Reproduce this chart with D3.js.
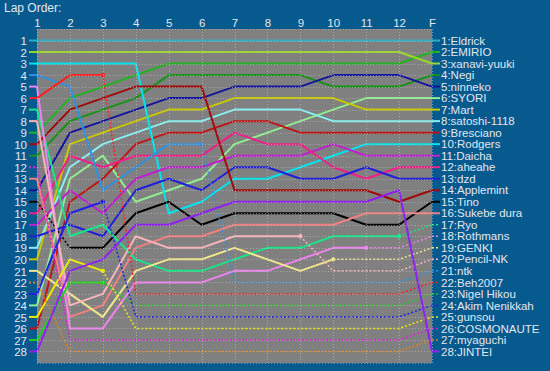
<!DOCTYPE html>
<html><head><meta charset="utf-8">
<script src="https://cdn.jsdelivr.net/npm/d3@7"></script>
<style>body{margin:0;background:#075a8e;} svg{display:block}</style>
</head><body>
<svg id="c" width="550" height="371"></svg>
<script>
// ---- data ----
const lapLabels = ["1","2","3","4","5","6","7","8","9","10","11","12","F"];
const drivers = ["Eldrick","EMIRIO","xanavi-yuuki","Negi","ninneko","SYORI","Mart","satoshi-1118",
  "Bresciano","Rodgers","Daicha","aheahe","dzd","Applemint","Tino","Sukebe dura","Ryo","Rothmans",
  "GENKI","Pencil-NK","ntk","Beh2007","Nigel Hikou","Akim Nenikkah","gunsou","COSMONAUTE","myaguchi","JINTEI"];
const colors = ["#2fb0c4","#1fb41f","#9ad62a","#169216","#1414a0","#90ee90","#c8c800","#88f0f0",
  "#c01414","#00e4ee","#c020d0","#f01e88","#2020d8","#a00a0a","#000000","#f08080","#18e488","#ee82ee",
  "#f0e68c","#f8b4b8","#3090e0","#ff2020","#20d020","#2020e8","#ecec00","#e020e0","#e08020","#9020f0"];

const pEldrick    = [1,1,1,1,1,1,1,1,1,1,1,1,1];
const pEMIRIO     = [9,6,5,4,3,3,3,3,3,3,3,3,2];
const pXanavi     = [2,2,2,2,2,2,2,2,2,2,2,2,3];
const pNegi       = [11,8,7,6,4,4,4,4,4,5,5,5,4];
const pNinneko    = [14,9,8,7,6,6,5,5,5,4,4,4,5];
const pSYORI      = [24,13,11,15,14,13,10,9,8,7,6,6,6];
const pMart       = [20,10,9,8,7,7,6,6,6,6,7,7,7];
const pSatoshi    = [19,12,10,9,8,8,7,7,7,8,8,8,8];
const pBresciano  = [26,15,13,10,9,9,8,8,9,9,9,9,9];
const pRodgers    = [3,3,3,3,16,15,13,13,12,11,10,10,10];
const pDaicha     = [17,14,16,13,12,12,11,11,11,10,11,11,11];
const pAheahe     = [16,11,12,11,11,11,9,10,10,12,13,12,12];
const pDzd        = [18,17,18,14,13,14,12,12,13,13,12,13,13];
const pApplemint  = [10,7,6,5,5,5,14,14,14,14,14,15,14];
const pTino       = [15,19,19,16,15,17,16,16,16,16,17,17,15];
const pSukebe     = [13,25,24,19,18,18,17,17,17,17,16,16,16];
const pRyo        = [7,18,17,20,21,21,20,19,19,18,18,18,17];
const pRothmans   = [5,26,26,22,22,22,21,21,20,19,19,19,18];
const pGENKI      = [21,23,25,21,20,20,19,20,21,20,20,20,19];
const pPencil     = [8,24,23,18,19,19,18,18,18,21,21,21,20];
const pNtk        = [4,5,14,12,10,10,22,22,22,22,22,22,21];
const pBeh        = [6,4,4,23,23,23,23,23,23,23,23,23,22];
const pNigel      = [27,22,22,24,24,24,24,24,24,24,24,24,23];
const pAkim       = [23,16,15,25,25,25,25,25,25,25,25,25,24];
const pGunsou     = [25,20,21,26,26,26,26,26,26,26,26,26,25];
const pCosmo      = [12,27,27,27,27,27,27,27,27,27,27,27,26];
const pMyaguchi   = [22,28,28,28,28,28,28,28,28,28,28,28,27];
const pJINTEI     = [28,21,20,17,17,16,15,15,15,15,15,14,28];

const positions = [pEldrick,pEMIRIO,pXanavi,pNegi,pNinneko,pSYORI,pMart,pSatoshi,pBresciano,pRodgers,
  pDaicha,pAheahe,pDzd,pApplemint,pTino,pSukebe,pRyo,pRothmans,pGENKI,pPencil,pNtk,pBeh,pNigel,pAkim,
  pGunsou,pCosmo,pMyaguchi,pJINTEI];
// index of last point reached under own power (after it the line is dotted)
const lastSolid = [12,12,12,12,12,12,12,12,12,12,12,12,12,12,12,12,11,10,9,8,5,2,2,2,2,0,0,12];
// extra dotted segments (driver index -> segment indices)
const extraDotted = {14:[0]};

// ---- chart ----
const svg = d3.select("#c");
const W = 550, H = 371;
const x = d3.scalePoint().domain(lapLabels).range([37, 432]);
const y = d3.scaleLinear().domain([0, 29]).range([29, 363]);
const textCol = "#e2e6ee";
const font = "'Liberation Sans', Arial, sans-serif";

svg.append("rect").attr("width", W).attr("height", H).attr("fill", "#075a8e");
svg.append("rect").attr("x", 37).attr("y", 29).attr("width", 395).attr("height", 334).attr("fill", "#808080");

svg.append("text").attr("x", 4).attr("y", 12).attr("fill", textCol)
  .style("font", "12px " + font).text("Lap Order:");

// top axis
const topAxis = d3.axisTop(x).tickSize(0).tickPadding(0);
const gTop = svg.append("g").attr("transform", "translate(0,27)").call(topAxis);
gTop.select(".domain").remove();
gTop.selectAll("text").attr("fill", textCol).style("font", "11.5px " + font).attr("dy", 0);

// left axis: position numbers
const rows = d3.range(1, 29);
const gLeft = svg.append("g").attr("transform", "translate(27,0)")
  .call(d3.axisLeft(y).tickValues(rows).tickSize(0).tickPadding(0).tickFormat(d3.format("d")));
gLeft.select(".domain").remove();
gLeft.selectAll("text").attr("fill", textCol).style("font", "11.5px " + font).attr("dy", "0.36em");

// lines
const gLines = svg.append("g");
positions.forEach((p, d) => {
  const col = colors[d];
  const dotted = i => i >= lastSolid[d] || (extraDotted[d] && extraDotted[d].includes(i));
  // left tick
  gLines.append("line").attr("x1", 29).attr("x2", 37).attr("y1", y(p[0])).attr("y2", y(p[0]))
    .attr("stroke", col).attr("stroke-width", 2)
    .attr("stroke-dasharray", lastSolid[d] === 0 ? "2,2" : null);
  // runs of same style
  let i = 0;
  while (i < p.length - 1) {
    const st = dotted(i);
    let j = i;
    while (j < p.length - 1 && dotted(j) === st) j++;
    const pts = d3.range(i, j + 1).map(k => [x(lapLabels[k]), y(p[k])]);
    gLines.append("path").attr("d", d3.line()(pts)).attr("fill", "none")
      .attr("stroke", col).attr("stroke-width", st ? 1.5 : 2)
      .attr("stroke-linejoin", "round")
      .attr("stroke-dasharray", st ? "2,2" : null);
    i = j;
  }
  if (lastSolid[d] < 12 && lastSolid[d] > 0) {
    gLines.append("circle").attr("cx", x(lapLabels[lastSolid[d]])).attr("cy", y(p[lastSolid[d]]))
      .attr("r", 2.2).attr("fill", col);
  }
  // right tick + label
  const yf = y(p[12]);
  gLines.append("line").attr("x1", 432).attr("x2", 440).attr("y1", yf).attr("y2", yf)
    .attr("stroke", col).attr("stroke-width", lastSolid[d] < 12 ? 1.5 : 2)
    .attr("stroke-dasharray", lastSolid[d] < 12 ? "2,2" : null);
  svg.append("text").attr("x", 441).attr("y", yf).attr("dy", "0.36em").attr("fill", textCol)
    .style("font", "11.5px " + font).text(p[12] + ":" + drivers[d]);
});

// grid on top (light dotted)
const gGrid = svg.append("g").attr("stroke", "#c8c8c8").attr("stroke-opacity", 0.55)
  .attr("stroke-width", 1).attr("stroke-dasharray", "1,2");
d3.range(0, 30).forEach(r => {
  gGrid.append("line").attr("x1", 37).attr("x2", 432).attr("y1", Math.round(y(r)) + 0.5).attr("y2", Math.round(y(r)) + 0.5);
});
lapLabels.forEach(l => {
  const xx = Math.round(x(l)) + 0.5;
  gGrid.append("line").attr("x1", xx).attr("x2", xx).attr("y1", 29).attr("y2", 363);
});
</script>
</body></html>
